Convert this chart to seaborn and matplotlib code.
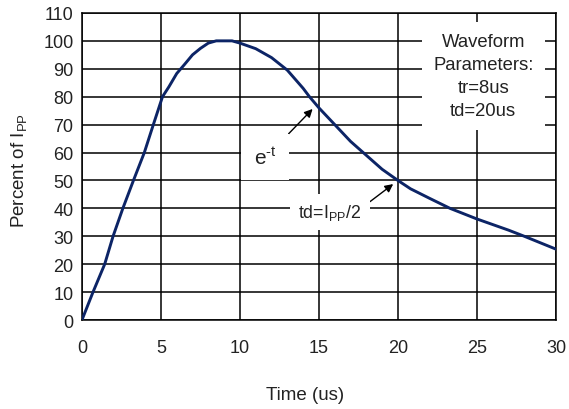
import numpy as np
import pandas as pd
import seaborn as sns
import matplotlib.pyplot as plt

# 8/20us surge current waveform
time_us = [0, 0.7, 1.44, 1.97, 2.59, 3.26, 3.95, 4.52, 5.1, 5.5, 6.0, 6.5,
           7.0, 7.5, 8.0, 8.5, 9.0, 9.5, 10.0, 11.0, 12.0, 13.0, 14.0, 14.4,
           15.0, 16.0, 17.0, 17.8, 19.0, 20.0, 20.8, 22.0, 23.3, 25.0, 27.0,
           28.0, 30.0]
percent_ipp = [0, 10, 20, 30, 40, 50, 60, 70, 80, 83.5, 88.3, 91.6,
               95, 97.3, 99.2, 100, 100, 100, 99.2, 97.2, 94, 89.5, 83, 80,
               76, 70, 64, 60, 54, 50, 47, 43.6, 40, 36.2, 32.2,
               30, 25.4]

x_ticks = [0, 5, 10, 15, 20, 25, 30]
y_ticks = list(range(0, 111, 10))

params_text = "Waveform\nParameters:\ntr=8us\ntd=20us"

df = pd.DataFrame({"t": time_us, "p": percent_ipp})

sns.set_theme(style="white")
plt.rcParams["font.family"] = ["Liberation Sans", "DejaVu Sans"]
plt.rcParams["mathtext.fontset"] = "custom"
plt.rcParams["mathtext.rm"] = "Liberation Sans"
plt.rcParams["mathtext.it"] = "Liberation Sans"

fig = plt.figure(figsize=(5.69, 4.10), dpi=100)
ax = fig.add_axes([0.144, 0.217, 0.833, 0.749])

ax.set_xlim(0, 30)
ax.set_ylim(0, 110)
ax.set_xticks(x_ticks)
ax.set_yticks(y_ticks)
ax.grid(True, color="black", linewidth=1.1)
ax.set_axisbelow(True)
for s in ax.spines.values():
    s.set_color("black")
    s.set_linewidth(1.1)
ax.tick_params(length=0, labelsize=13, colors="#222222")
ax.tick_params(axis="x", pad=14)
ax.tick_params(axis="y", pad=6)

sns.lineplot(data=df, x="t", y="p", color="#0c2466", linewidth=2.1, ax=ax, zorder=3)

ax.set_xlabel("Time (us)", fontsize=13.5, color="#222222")
ax.xaxis.set_label_coords(0.471, -0.215)
ax.set_ylabel(r"Percent of I$_{\mathrm{PP}}$", fontsize=13.5, color="#222222")
ax.yaxis.set_label_coords(-0.112, 0.49)

# parameter box
ax.text(25.4, 87.5, params_text, ha="center", va="center", fontsize=13.3,
        linespacing=1.45, color="#222222", zorder=4,
        bbox=dict(facecolor="white", edgecolor="none", pad=8))

# annotations with arrows
ax.annotate(r"e$^{\text{-t}}$", xy=(14.6, 75.6), xytext=(11.6, 58.4),
            ha="center", va="center", fontsize=15, color="#222222", zorder=4,
            bbox=dict(facecolor="white", edgecolor="none", pad=9),
            arrowprops=dict(arrowstyle="-|>", color="black", lw=1.0,
                            shrinkA=0, shrinkB=0, mutation_scale=12,
                            relpos=(1.0, 1.0)))
ax.annotate(r"td=I$_{\mathrm{PP}}$/2", xy=(19.7, 48.7), xytext=(15.7, 38.7),
            ha="center", va="center", fontsize=12.8, color="#222222", zorder=4,
            bbox=dict(facecolor="white", edgecolor="none", pad=6),
            arrowprops=dict(arrowstyle="-|>", color="black", lw=1.0,
                            shrinkA=0, shrinkB=0, mutation_scale=12,
                            relpos=(1.0, 0.7)))

fig.savefig("out.png", dpi=100)
